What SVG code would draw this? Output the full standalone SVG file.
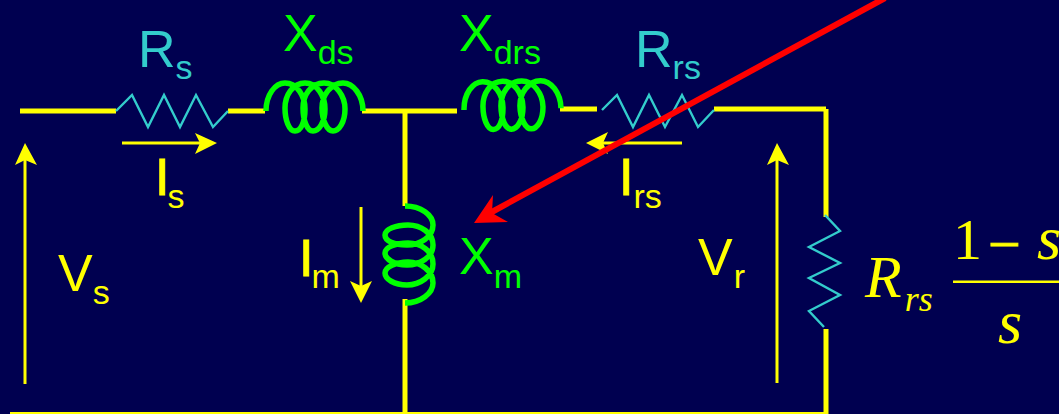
<svg xmlns="http://www.w3.org/2000/svg" width="1059" height="414" viewBox="0 0 1059 414">
<style>
.w{stroke:#ff0;stroke-width:5;fill:none}
.a{stroke:#ff0;stroke-width:3;fill:none}
.h{fill:#ff0}
.r{stroke:#33cccc;stroke-width:2.4;fill:none}
.c{stroke:#0f0;stroke-width:5.5;fill:none}
text{font-family:"Liberation Sans",Arial,sans-serif}
.g{fill:#0f0;font-size:52px}
.t{fill:#33cccc;font-size:52px}
.y{fill:#ff0;font-size:52px}
.i{stroke:#ff0;stroke-width:1}
.m{font-family:"Liberation Serif","Times New Roman",serif;fill:#ff0}
.sub{font-size:34px}
</style>
<defs>
<path id="coil" d="M0,0C0,-16 9,-28 19,-28C31,-28 39,-15 39,-2C39,11 35,20 29,20C23,20 19,9 19,-3C19,-16 27,-28 39,-28C51,-28 59,-15 59,-2C59,11 53,20 47,20C41,20 37,9 37,-3C37,-16 45,-28 58,-28C70,-28 79,-15 79,-2C79,11 73,20 67,20C61,20 56,9 56,-3C56,-16 65,-28 77,-28C87,-28 97,-16 97,0"/>
</defs>
<rect width="1059" height="414" fill="#000050"/>
<g id="connectors">
<path class="w" d="M20,111H116M228,111H265M362,111H457M405,111V206M405,299V414M560,109H597M714,109H826M826,109V217M826,329V414"/>
<path stroke="#ff0" stroke-width="3" fill="none" d="M10,413.500H826"/>
</g>
<g id="Rs"><path class="r" d="M116,111L132,95L148,127L164,95L180,127L196,95L213,127L228,111"/><text class="t" x="138" y="67">R<tspan class="sub" dy="12">s</tspan></text></g>
<g id="Xds"><use href="#coil" class="c" transform="translate(266,111)"/><text class="g" x="283" y="51">X<tspan class="sub" dy="13">ds</tspan></text></g>
<g id="Xdrs"><use href="#coil" class="c" transform="translate(464,110) rotate(-1)"/><text class="g" x="459" y="51">X<tspan class="sub" dy="13">drs</tspan></text></g>
<g id="Rrs"><path class="r" d="M602,110L617,95L633,127L649,95L665,127L682,95L698,127L714,110"/><text class="t" x="635" y="67">R<tspan class="sub" dy="12">rs</tspan></text></g>
<g id="Xm"><use href="#coil" class="c" transform="translate(405,206) rotate(90)"/><text class="g" x="459" y="274">X<tspan class="sub" dy="14">m</tspan></text></g>
<g id="Rload"><path class="r" d="M825,215L840,231L809,247L840,263L809,278L840,295L809,311L824,327"/>
<text class="m" x="865" y="297" font-size="60" font-style="italic">R<tspan font-size="36" dy="14" dx="3">rs</tspan></text>
<text class="m" x="953" y="259" font-size="58">1</text>
<text class="m" x="988" y="264" font-size="58" stroke="#ff0" stroke-width="0.8">−</text>
<text class="m" x="1037" y="259" font-size="62" font-style="italic">s</text>
<rect class="h" x="953" y="280.500" width="106" height="2.500"/>
<text class="m" x="998" y="343" font-size="62" font-style="italic">s</text></g>
<g id="Is"><path class="a" d="M122,143H205"/><path class="h" d="M217,143L195,133L200,143L195,154Z"/><text class="y" x="155" y="195"><tspan class="i">I</tspan><tspan class="sub" dy="13" dx="-2">s</tspan></text></g>
<g id="Irs"><path class="a" d="M682,143H598"/><path class="h" d="M586,143L608,132L603,143L608,154Z"/><text class="y" x="619" y="195"><tspan class="i">I</tspan><tspan class="sub" dy="13">rs</tspan></text></g>
<g id="Im"><path class="a" d="M361,207V291"/><path class="h" d="M361,303L350,281L361,286L372,281Z"/><text class="y" x="299" y="276"><tspan class="i">I</tspan><tspan class="sub" dy="12" dx="-2">m</tspan></text></g>
<g id="Vs"><path class="a" d="M25,384V155"/><path class="h" d="M25,143L15,165L25,160L37,165Z"/><text class="y" x="58" y="291">V<tspan class="sub" dy="13">s</tspan></text></g>
<g id="Vr"><path class="a" d="M777,383V155"/><path class="h" d="M777,143L767,165L777,160L789,165Z"/><text class="y" x="698" y="275">V<tspan class="sub" dy="13" dx="1">r</tspan></text></g>
<g id="pointer"><path stroke="#f00" stroke-width="6" fill="none" d="M885,-2L490,213"/><path fill="#f00" d="M474,223L493,195L492,213L508,222Z"/></g>
</svg>
